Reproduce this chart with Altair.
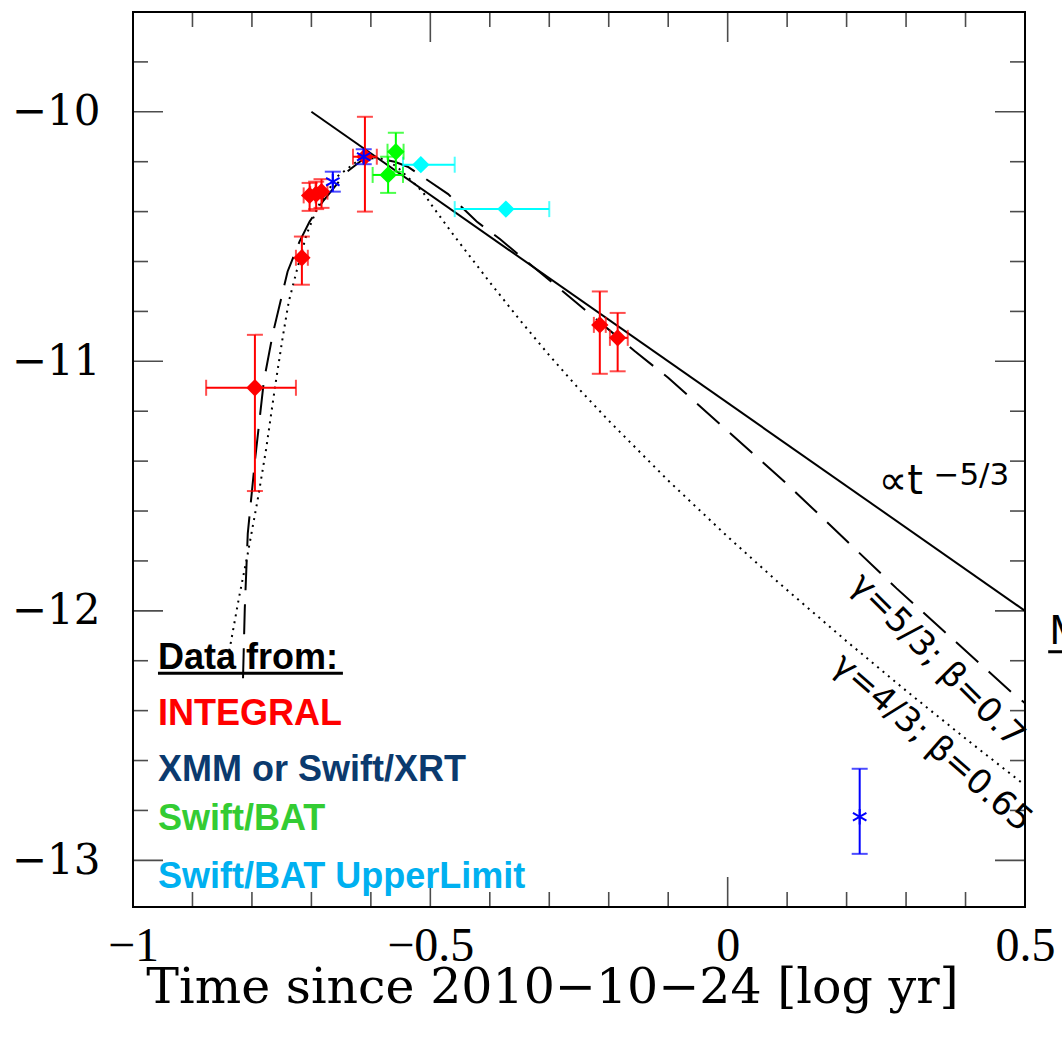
import altair as alt
import pandas as pd

# ---------------------------------------------------------------- data
# INTEGRAL fluxes (log erg/cm^2/s) vs. log time since 2010-10-24 [yr]
int_x = [-0.795, -0.716, -0.703, -0.692, -0.683, -0.610, -0.215, -0.185]
int_y = [-11.106, -10.585, -10.335, -10.330, -10.320, -10.180, -10.854, -10.906]
int_xlo = [-0.877, -0.726, -0.713, -0.702, -0.693, -0.630, -0.225, -0.198]
int_xhi = [-0.726, -0.706, -0.693, -0.682, -0.673, -0.590, -0.205, -0.168]
int_ylo = [-11.520, -10.693, -10.397, -10.390, -10.385, -10.400, -11.050, -11.040]
int_yhi = [-10.894, -10.500, -10.285, -10.280, -10.270, -10.020, -10.720, -10.806]

# XMM or Swift/XRT
xrt_x = [-0.664, -0.612, 0.222]
xrt_y = [-10.280, -10.180, -12.825]
xrt_ylo = [-10.320, -10.210, -12.974]
xrt_yhi = [-10.240, -10.150, -12.633]

# Swift/BAT
bat_x = [-0.558, -0.571]
bat_y = [-10.160, -10.253]
bat_xlo = [-0.572, -0.597]
bat_xhi = [-0.545, -0.546]
bat_ylo = [-10.240, -10.325]
bat_yhi = [-10.084, -10.180]

# Swift/BAT upper limits
bul_x = [-0.516, -0.373]
bul_y = [-10.212, -10.390]
bul_xlo = [-0.546, -0.459]
bul_xhi = [-0.459, -0.300]

# model curves
pl_x = [-0.700, 0.500]
pl_y = [-10.000, -12.000]

g53_x = [-0.815, -0.812, -0.807, -0.795, -0.780, -0.765, -0.740, -0.720, -0.703,
         -0.681, -0.640, -0.613, -0.590, -0.560, -0.538, -0.470, -0.422, -0.383,
         -0.156, -0.100, 0.099, 0.284, 0.479, 0.500]
g53_y = [-12.270, -11.990, -11.690, -11.400, -11.080, -10.890, -10.640, -10.520, -10.440,
         -10.360, -10.240, -10.190, -10.185, -10.200, -10.220, -10.330, -10.440, -10.510,
         -10.960, -11.066, -11.490, -11.910, -12.330, -12.370]

g43_x = [-0.838, -0.822, -0.807, -0.790, -0.776, -0.761, -0.748, -0.738, -0.725, -0.708,
         -0.689, -0.657, -0.624, -0.600, -0.578, -0.556, -0.513, -0.496, -0.459, -0.400,
         -0.350, -0.300, -0.250, -0.200, -0.100, 0.000, 0.087, 0.200, 0.300, 0.400, 0.500]
g43_y = [-12.160, -11.950, -11.770, -11.550, -11.350, -11.100, -10.900, -10.760, -10.640, -10.490,
         -10.380, -10.260, -10.200, -10.180, -10.190, -10.220, -10.320, -10.380, -10.500, -10.683,
         -10.833, -10.976, -11.111, -11.238, -11.478, -11.703, -11.890, -12.122, -12.320, -12.512,
         -12.699]

# axis ticks
x_major = [-1.0, -0.5, 0.0, 0.5]
x_minor = [-0.9, -0.8, -0.7, -0.6, -0.4, -0.3, -0.2, -0.1, 0.1, 0.2, 0.3, 0.4]
y_major = [-13.0, -12.0, -11.0, -10.0]
y_minor = [-12.8, -12.6, -12.4, -12.2, -11.8, -11.6, -11.4, -11.2,
           -10.8, -10.6, -10.4, -10.2, -9.8, -9.6]

XMIN, XMAX = -1.0, 0.5
YMIN, YMAX = -13.187, -9.6

SOURCES = ["INTEGRAL", "XRT", "BAT", "BATUL"]
COLORS = ["#ff0000", "#0000ff", "#00ff00", "#00ffff"]

# ---------------------------------------------------------------- tables
def rows(src, xs, ys):
    return [{"src": src, "x": a, "y": b} for a, b in zip(xs, ys)]

points = pd.DataFrame(rows("INTEGRAL", int_x, int_y) + rows("XRT", xrt_x, xrt_y)
                      + rows("BAT", bat_x, bat_y) + rows("BATUL", bul_x, bul_y))

vbars = pd.DataFrame(
    [{"src": "INTEGRAL", "x": a, "lo": l, "hi": h} for a, l, h in zip(int_x, int_ylo, int_yhi)]
    + [{"src": "XRT", "x": a, "lo": l, "hi": h} for a, l, h in zip(xrt_x, xrt_ylo, xrt_yhi)]
    + [{"src": "BAT", "x": a, "lo": l, "hi": h} for a, l, h in zip(bat_x, bat_ylo, bat_yhi)]
)
hbars = pd.DataFrame(
    [{"src": "INTEGRAL", "y": b, "lo": l, "hi": h} for b, l, h in zip(int_y, int_xlo, int_xhi)]
    + [{"src": "BAT", "y": b, "lo": l, "hi": h} for b, l, h in zip(bat_y, bat_xlo, bat_xhi)]
    + [{"src": "BATUL", "y": b, "lo": l, "hi": h} for b, l, h in zip(bul_y, bul_xlo, bul_xhi)]
)
vcaps = pd.concat([vbars.rename(columns={"lo": "yc"})[["src", "x", "yc"]],
                   vbars.rename(columns={"hi": "yc"})[["src", "x", "yc"]]])
hcaps = pd.concat([hbars.rename(columns={"lo": "xc"})[["src", "y", "xc"]],
                   hbars.rename(columns={"hi": "xc"})[["src", "y", "xc"]]])

# ---------------------------------------------------------------- scales / axes
xscale = alt.Scale(domain=[XMIN, XMAX], nice=False, zero=False)
yscale = alt.Scale(domain=[YMIN, YMAX], nice=False, zero=False)
cscale = alt.Scale(domain=SOURCES, range=COLORS)

xaxis = alt.Axis(values=x_major, format="~g", ticks=False, domain=False, grid=False,
                 labelFont="Liberation Serif", labelFontSize=48, labelColor="black",
                 labelPadding=15, labelFlush=False,
                 title="Time since 2010\u221210\u221224 [log yr]",
                 titleFont="DejaVu Serif", titleFontSize=49, titleFontWeight="normal",
                 titleColor="black", titleX=419, titleY=95, titleAlign="center",
                 titleBaseline="alphabetic")
yaxis = alt.Axis(values=y_major, format="~g", ticks=False, domain=False, grid=False,
                 labelFont="DejaVu Serif", labelFontSize=42, labelColor="black",
                 labelPadding=33, labelFlush=False, title="")


def X(field):
    return alt.X(field, type="quantitative", scale=xscale, axis=xaxis)


def Y(field):
    return alt.Y(field, type="quantitative", scale=yscale, axis=yaxis)


color = alt.Color("src:N", scale=cscale, legend=None)

# ---------------------------------------------------------------- inward ticks on all four sides
def xticks(vals, length):
    df = pd.DataFrame({"x": vals})
    base = alt.Chart(df).mark_tick(orient="vertical", size=2 * length, thickness=1.6,
                                   color="black", clip=True)
    return (base.encode(x=X("x"), y=alt.datum(YMIN))
            + base.encode(x=X("x"), y=alt.datum(YMAX)))


def yticks(vals, length):
    df = pd.DataFrame({"y": vals})
    base = alt.Chart(df).mark_tick(orient="horizontal", size=2 * length, thickness=1.6,
                                   color="black", clip=True)
    return (base.encode(y=Y("y"), x=alt.datum(XMIN))
            + base.encode(y=Y("y"), x=alt.datum(XMAX)))


ticks = xticks(x_major, 30) + xticks(x_minor, 15) + yticks(y_major, 30) + yticks(y_minor, 15)

# ---------------------------------------------------------------- model curves
def curve(xs, ys, **kw):
    df = pd.DataFrame({"x": xs, "y": ys, "i": range(len(xs))})
    return alt.Chart(df).mark_line(color="black", strokeWidth=2, **kw).encode(
        x=X("x"), y=Y("y"), order="i:Q")


lines = (curve(pl_x, pl_y)
         + curve(g53_x, g53_y, strokeDash=[30, 14])
         + curve(g43_x, g43_y, strokeDash=[2, 5]))

# ---------------------------------------------------------------- error bars
vrule = alt.Chart(vbars).mark_rule(strokeWidth=2).encode(
    x=X("x"), y=Y("lo"), y2="hi", color=color)
hrule = alt.Chart(hbars).mark_rule(strokeWidth=2).encode(
    y=Y("y"), x=X("lo"), x2="hi", color=color)
vcap = alt.Chart(vcaps).mark_tick(orient="horizontal", size=16, thickness=2).encode(
    x=X("x"), y=Y("yc"), color=color)
hcap = alt.Chart(hcaps).mark_tick(orient="vertical", size=16, thickness=2).encode(
    x=X("xc"), y=Y("y"), color=color)

# ---------------------------------------------------------------- markers
diamonds = alt.Chart(points).mark_point(shape="diamond", filled=True, size=300, opacity=1).encode(
    x=X("x"), y=Y("y"), color=color
).transform_filter(alt.datum.src != "XRT")

ASTERISK = "M0,-1L0,1M-0.87,-0.5L0.87,0.5M-0.87,0.5L0.87,-0.5"
stars = alt.Chart(points).mark_point(shape=ASTERISK, filled=False, size=240,
                                     strokeWidth=2, opacity=1).encode(
    x=X("x"), y=Y("y"), color=color
).transform_filter(alt.datum.src == "XRT")

# ---------------------------------------------------------------- annotations
def label(txt, x, y, **kw):
    df = pd.DataFrame({"t": [txt], "x": [x], "y": [y]})
    return alt.Chart(df).mark_text(**kw).encode(x=X("x"), y=Y("y"), text="t:N")


notes = (
    label("\u221dt", 0.254, -11.531, font="DejaVu Sans", fontSize=40, align="left",
          baseline="alphabetic", color="black")
    + label("\u22125/3", 0.346, -11.497, font="DejaVu Sans", fontSize=31, align="left",
            baseline="alphabetic", color="black")
    + label("\u03b3=5/3; \u03b2=0.7", 0.352, -12.200, font="DejaVu Sans", fontSize=34,
            align="center", baseline="middle", angle=45, color="black")
    + label("\u03b3=4/3; \u03b2=0.65", 0.3435, -12.530, font="DejaVu Sans", fontSize=34,
            align="center", baseline="middle", angle=41, color="black")
)

legend_items = [
    ("Data from:", -12.232, "black"),
    ("INTEGRAL", -12.457, "#ff0000"),
    ("XMM or Swift/XRT", -12.681, "#0b3a6e"),
    ("Swift/BAT", -12.878, "#33cc33"),
    ("Swift/BAT UpperLimit", -13.110, "#00b0f0"),
]
legend_txt = None
for txt, yy, col in legend_items:
    t = label(txt, -0.958, yy, font="Liberation Sans", fontSize=36, fontWeight="bold",
              align="left", baseline="alphabetic", color=col)
    legend_txt = t if legend_txt is None else legend_txt + t

underline = alt.Chart(pd.DataFrame({"x": [-0.958], "x2": [-0.647], "y": [-12.25]})).mark_rule(
    color="black", strokeWidth=3).encode(x=X("x"), x2="x2", y=Y("y"))

# cut-off heading at the right edge
edge_text = label("M", 0.541, -12.132, font="Liberation Sans", fontSize=43, align="left",
                  baseline="alphabetic", color="black")
edge_line = alt.Chart(pd.DataFrame({"x": [0.539], "x2": [0.62], "y": [-12.164]})).mark_rule(
    color="black", strokeWidth=3).encode(x=X("x"), x2="x2", y=Y("y"))

chart = alt.layer(
    ticks, lines, vrule, hrule, vcap, hcap, diamonds, stars, notes, legend_txt, underline,
    edge_text, edge_line
).properties(
    width=892, height=895,
    padding={"left": 133, "top": 12, "right": 37, "bottom": 131},
    autosize=alt.AutoSizeParams(type="none"),
    background="white",
).configure_view(stroke="black", strokeWidth=2)

chart.save("out.html", embed_options={"renderer": "svg", "actions": False})
